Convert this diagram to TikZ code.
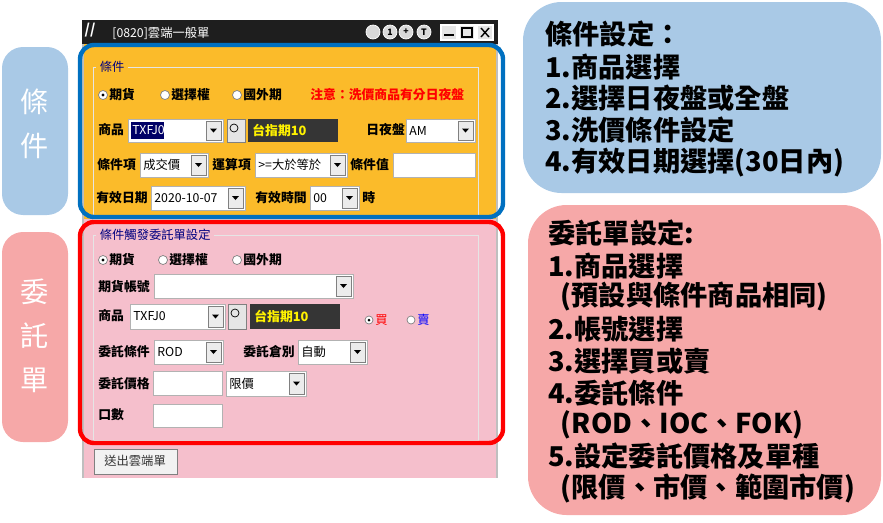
\documentclass[tikz,border=0pt]{standalone}
\usepackage{fontspec}
\setmainfont{Noto Sans CJK TC}
\newfontfamily\uifont{Noto Sans CJK TC}
\usetikzlibrary{positioning}
\definecolor{sideblue}{HTML}{A9C9E6}
\definecolor{sidepink}{HTML}{F6A8A8}
\definecolor{formorange}{HTML}{FBBB2A}
\definecolor{formpink}{HTML}{F5BFCC}
\definecolor{frameblue}{HTML}{0070C0}
\definecolor{titledark}{HTML}{1E1E1E}
\tikzset{
  sidebox/.style={rounded corners=12pt, draw=none},
  lbl/.style={font=\uifont\bfseries\fontsize{7.3}{8}\selectfont, anchor=west, inner sep=0pt},
  val/.style={font=\uifont\fontsize{7}{8}\selectfont, anchor=west, inner sep=0pt},
  field/.style={fill=white, draw=gray!60},
  note/.style={font=\bfseries\fontsize{15.5}{17}\selectfont, anchor=west, inner sep=0pt},
  sidelbl/.style={font=\fontsize{16}{25}\selectfont, text=white, align=center},
}
% combo box: x1, y1, x2, y2, text
\newcommand{\combo}[5]{
  \draw[field] (#1,#2) rectangle (#3,#4);
  \draw[fill=gray!15, draw=gray] (#3-17,#2+2) rectangle (#3-2,#4-2);
  \fill (#3-13,{(#2+#4)/2-2}) -- (#3-6,{(#2+#4)/2-2}) -- (#3-9.5,{(#2+#4)/2+2}) -- cycle;
  \node[val] at (#1+3,{(#2+#4)/2}) {#5};
}
\newcommand{\radio}[4]{
  \draw[fill=white, draw=gray] (#1,#2) circle (4.5);
  \ifnum#3=1 \fill (#1,#2) circle (1.6); \fi
  \node[lbl] at (#1+6,#2) {#4};
}
\begin{document}
\begin{tikzpicture}[x=0.02cm, y=-0.02cm]
  \useasboundingbox (0,0) rectangle (883,522);
  % side labels
  \fill[sidebox, sideblue] (2,47) rectangle (68,215);
  \node[sidelbl] (condlbl) at (35,124) {條\\件};
  \fill[sidebox, sidepink] (2,232) rectangle (68,442);
  \node[sidelbl] (orderlbl) at (35,336) {委\\託\\單};
  % window
  \fill[titledark] (82,20) rectangle (498,44);
  \node[val, text=white] (wtitle) at (112,33) {[0820]雲端一般單};
  \node[text=white, font=\bfseries\fontsize{8}{8}\selectfont] at (90,30) {\textit{//}};
  \foreach \cx/\ct in {373/, 390/1, 406/+, 424/T}
    \draw[fill=gray!30, draw=white] (\cx,32) circle (7) node[font=\bfseries\fontsize{5}{5}\selectfont] {\ct};
  \foreach \bx in {441,459,477}
    \draw[fill=gray!20, draw=white, thick] (\bx,25) rectangle (\bx+16,40);
  \draw[thick] (444,35) -- (454,35);
  \draw[thick] (462,28) rectangle (472,37);
  \draw[thick] (481,28) -- (489,37) (489,28) -- (481,37);
  \fill[formorange] (82,44) rectangle (498,219);
  \fill[formpink] (82,219) rectangle (498,478);
  \draw[gray!50, thick] (83,44) -- (83,478) (497,44) -- (497,478);
  % condition group
  \draw[white!80!gray] (93,67) rectangle (478,219);
  \node[val, fill=formorange, inner xsep=2pt, text=blue!50!black] at (96,67) {條件};
  \radio{103}{95}{1}{期貨}
  \radio{165}{95}{0}{選擇權}
  \radio{237}{95}{0}{國外期}
  \node[lbl, text=red] (warn) at (310,95) {注意：洗價商品有分日夜盤};
  \node[lbl] at (98,130) {商品};
  \combo{128}{119}{223}{142}{}
  \fill[blue!40!black] (131,122) rectangle (164,139);
  \node[val, text=white] at (132,130) {TXFJ0};
  \draw[fill=gray!20, draw=gray] (227,119) rectangle (245,142);
  \draw (234,128) circle (4);
  \fill[titledark!90!white] (248,119) rectangle (338,142);
  \node[lbl, text=yellow] at (252,130) {台指期10};
  \node[lbl] at (366,130) {日夜盤};
  \combo{406}{119}{475}{142}{AM}
  \node[lbl] at (97,165) {條件項};
  \combo{140}{153}{208}{177}{成交價}
  \node[lbl] at (212,165) {運算項};
  \combo{255}{153}{347}{177}{>=大於等於}
  \node[lbl] at (350,165) {條件值};
  \draw[field] (393,153) rectangle (475,177);
  \node[lbl] at (96,198) {有效日期};
  \combo{151}{186}{245}{210}{2020-10-07}
  \node[lbl] at (255,198) {有效時間};
  \combo{310}{186}{359}{210}{00}
  \node[lbl] at (362,198) {時};
  % order group
  \draw[white!80!gray] (93,235) rectangle (478,440);
  \node[val, fill=formpink, inner xsep=2pt, text=blue!50!black] at (96,235) {條件觸發委託單設定};
  \radio{103}{260}{1}{期貨}
  \radio{163}{260}{0}{選擇權}
  \radio{237}{260}{0}{國外期}
  \node[lbl] at (98,287) {期貨帳號};
  \combo{154}{274}{353}{298}{}
  \node[lbl] at (98,316) {商品};
  \combo{130}{304}{225}{329}{TXFJ0}
  \draw[fill=gray!20, draw=gray] (228,304) rectangle (246,329);
  \draw (235,313) circle (4);
  \fill[titledark!90!white] (250,304) rectangle (340,329);
  \node[lbl, text=yellow] at (254,316) {台指期10};
  \draw[fill=white, draw=gray] (369,320) circle (4);
  \fill (369,320) circle (1.5);
  \node[val, text=red] at (375,320) {買};
  \draw[fill=white, draw=gray] (411,320) circle (4);
  \node[val, text=blue] at (417,320) {賣};
  \node[lbl] at (98,352) {委託條件};
  \combo{154}{340}{223}{364}{ROD}
  \node[lbl] at (243,352) {委託倉別};
  \combo{298}{340}{367}{364}{自動}
  \node[lbl] at (98,384) {委託價格};
  \draw[field] (153,371) rectangle (222,395);
  \combo{226}{371}{306}{396}{限價}
  \node[lbl] at (98,415) {口數};
  \draw[field] (153,404) rectangle (222,427);
  \draw[fill=gray!10, draw=gray] (94,449) rectangle (177,474);
  \node[val, text=gray!40!black] (sendbtn) at (104,461) {送出雲端單};
  % highlight frames
  \draw[frameblue, line width=2.5pt, rounded corners=8pt] (80,45) rectangle (503,217);
  \draw[red, line width=2.5pt, rounded corners=8pt] (80,222) rectangle (503,443);
  % right notes
  \fill[sidebox, rounded corners=22pt, sideblue] (523,2) rectangle (881,193);
  \node[note] (c0) at (545,34) {條件設定：};
  \node[note] (c1) at (545,67) {1.商品選擇};
  \node[note] (c2) at (545,98) {2.選擇日夜盤或全盤};
  \node[note] (c3) at (545,130) {3.洗價條件設定};
  \node[note] (c4) at (545,163) {4.有效日期選擇(30日內)};
  \fill[sidebox, rounded corners=22pt, sidepink] (528,205) rectangle (881,515);
  \node[note] (o0) at (548,233) {委託單設定:};
  \node[note] (o1) at (548,266) {1.商品選擇};
  \node[note] (o2) at (548,297) {\ \ (預設與條件商品相同)};
  \node[note] (o3) at (548,329) {2.帳號選擇};
  \node[note] (o4) at (548,361) {3.選擇買或賣};
  \node[note] (o5) at (548,393) {4.委託條件};
  \node[note] (o6) at (548,425) {\ \ (ROD、IOC、FOK)};
  \node[note] (o7) at (548,456) {5.設定委託價格及單種};
  \node[note] (o8) at (548,488) {\ \ (限價、市價、範圍市價)};
\end{tikzpicture}
\end{document}
